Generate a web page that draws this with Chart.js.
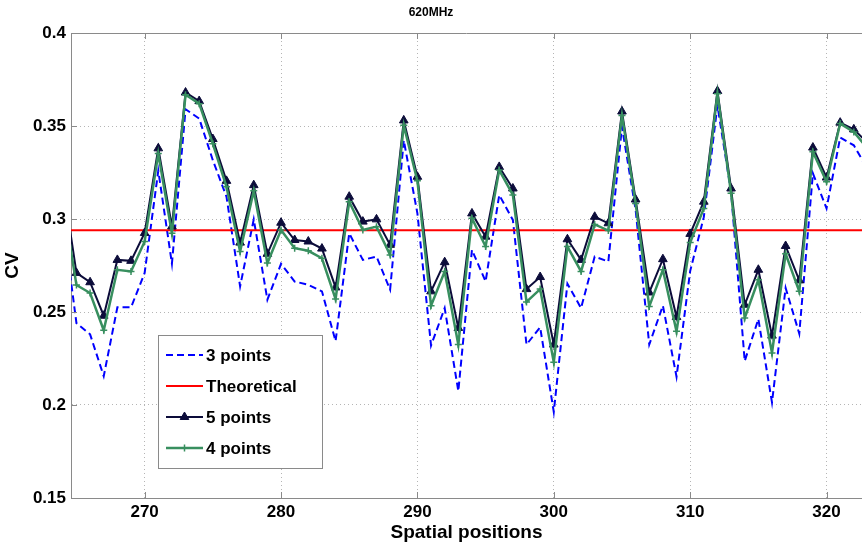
<!DOCTYPE html>
<html><head><meta charset="utf-8">
<script src="https://cdn.jsdelivr.net/npm/chart.js@4/dist/chart.umd.min.js"></script>
<style>html,body{margin:0;padding:0;background:#fff;overflow:hidden;}#wrap{width:862px;height:548px;position:relative;}</style>
</head><body><div id="wrap"><canvas id="c"></canvas></div>
<script>
const TITLE = '620MHz';
const X_LABEL = 'Spatial positions';
const Y_LABEL = 'CV';
const POSITIONS = [264,265,266,267,268,269,270,271,272,273,274,275,276,277,278,279,280,281,282,283,284,285,286,287,288,289,290,291,292,293,294,295,296,297,298,299,300,301,302,303,304,305,306,307,308,309,310,311,312,313,314,315,316,317,318,319,320,321,322,323];
const X_TICKS = [270,280,290,300,310,320];
const Y_TICKS = [0.15,0.2,0.25,0.3,0.35,0.4];
const SERIES_NAMES = ['3 points','Theoretical','5 points','4 points'];
const THREE_POINTS = [0.300,0.244,0.238,0.2155,0.2525,0.2525,0.271,0.326,0.276,0.359,0.354,0.3316,0.312,0.2638,0.2998,0.2566,0.2759,0.2664,0.2646,0.2611,0.2343,0.2923,0.278,0.2798,0.262,0.3423,0.303,0.232,0.2521,0.2075,0.2834,0.2664,0.3129,0.2995,0.2325,0.2418,0.1963,0.2652,0.2521,0.2798,0.2771,0.3495,0.305,0.2325,0.2534,0.2152,0.272,0.301,0.3611,0.3146,0.2236,0.2462,0.2014,0.2629,0.2384,0.3245,0.3057,0.3438,0.3396,0.327];
const THEORETICAL = 0.294;
const FIVE_POINTS = [0.320,0.271,0.266,0.248,0.278,0.2775,0.2925,0.338,0.296,0.368,0.3634,0.343,0.3205,0.2873,0.3182,0.2813,0.298,0.2887,0.2879,0.2841,0.2632,0.312,0.2986,0.2998,0.2861,0.353,0.3227,0.2611,0.2768,0.2414,0.303,0.2905,0.328,0.3164,0.2623,0.2688,0.2325,0.2891,0.278,0.3012,0.2977,0.3578,0.3105,0.2605,0.2784,0.2473,0.292,0.3093,0.3688,0.3164,0.2539,0.2727,0.2373,0.2855,0.267,0.3384,0.3223,0.3518,0.3482,0.341];
const FOUR_POINTS = [0.310,0.2645,0.2602,0.2402,0.2727,0.2718,0.2879,0.3352,0.2923,0.3668,0.362,0.3405,0.3173,0.2825,0.3152,0.2763,0.2941,0.2843,0.2829,0.2789,0.257,0.3093,0.2941,0.2959,0.2807,0.3504,0.3205,0.2534,0.2718,0.2325,0.3004,0.2852,0.3263,0.3129,0.2554,0.2623,0.223,0.2852,0.2718,0.2971,0.2938,0.3557,0.3084,0.253,0.2727,0.2396,0.2873,0.3057,0.3673,0.3138,0.2468,0.2673,0.228,0.2813,0.2611,0.3361,0.32,0.3513,0.3468,0.338];

const pts = arr => POSITIONS.map((x, i) => ({x, y: arr[i]}));
const FONT = 'Liberation Sans, Arial, Helvetica, sans-serif';
const AXIS_COLOR = '#8a8a8a';

const frame = {
  id: 'frame',
  afterDatasetsDraw(chart) {
    const {ctx, chartArea: a, scales} = chart;
    ctx.save();
    ctx.strokeStyle = AXIS_COLOR; ctx.lineWidth = 1;
    ctx.beginPath(); ctx.moveTo(a.left, a.top + 0.5); ctx.lineTo(a.right, a.top + 0.5); ctx.stroke();
    const tl = 6;
    ctx.beginPath();
    X_TICKS.forEach(v => {
      const x = Math.round(scales.x.getPixelForValue(v)) + 0.5;
      ctx.moveTo(x, a.bottom); ctx.lineTo(x, a.bottom - tl);
      ctx.moveTo(x, a.top); ctx.lineTo(x, a.top + tl);
    });
    Y_TICKS.forEach(v => {
      const y = Math.round(scales.y.getPixelForValue(v)) + 0.5;
      ctx.moveTo(a.left, y); ctx.lineTo(a.left + tl, y);
    });
    ctx.stroke();
    // legend
    const bx = 158, by = 335, bw = 164, bh = 133;
    ctx.fillStyle = '#fff'; ctx.fillRect(bx, by, bw, bh);
    ctx.strokeStyle = AXIS_COLOR; ctx.strokeRect(bx + 0.5, by + 0.5, bw, bh);
    const ds = chart.data.datasets;
    ctx.font = 'bold 17px ' + FONT; ctx.textBaseline = 'middle'; ctx.textAlign = 'left';
    ds.forEach((d, i) => {
      const y = 355 + i * 31;
      ctx.save();
      ctx.strokeStyle = d.borderColor; ctx.lineWidth = d.borderWidth;
      ctx.setLineDash(d.borderDash || []);
      ctx.beginPath(); ctx.moveTo(166, y); ctx.lineTo(203, y); ctx.stroke();
      ctx.setLineDash([]);
      if (d.pointRadius > 0) {
        ctx.fillStyle = d.pointBackgroundColor; ctx.strokeStyle = d.pointBorderColor;
        ctx.lineWidth = d.pointBorderWidth;
        Chart.helpers.drawPoint(ctx, {pointStyle: d.pointStyle, radius: d.pointRadius, borderWidth: d.pointBorderWidth, rotation: 0}, 184.5, y);
      }
      ctx.restore();
      ctx.fillStyle = '#000';
      ctx.fillText(d.label, 206, y + 1);
    });
    ctx.restore();
  }
};

new Chart(document.getElementById('c'), {
  type: 'line',
  data: {
    datasets: [
      {label: SERIES_NAMES[0], data: pts(THREE_POINTS), borderColor: '#0000ff', borderWidth: 2, borderDash: [7, 4], pointRadius: 0, order: 4, clip: 0},
      {label: SERIES_NAMES[1], data: [{x: POSITIONS[0], y: THEORETICAL}, {x: POSITIONS[POSITIONS.length - 1], y: THEORETICAL}], borderColor: '#ff0000', borderWidth: 2, pointRadius: 0, order: 3, clip: 0},
      {label: SERIES_NAMES[2], data: pts(FIVE_POINTS), borderColor: '#0c0c3a', borderWidth: 2, pointStyle: 'triangle', pointRadius: 5, pointBackgroundColor: '#0c0c3a', pointBorderColor: '#0c0c3a', pointBorderWidth: 1, order: 2, clip: 0},
      {label: SERIES_NAMES[3], data: pts(FOUR_POINTS), borderColor: '#388f5f', borderWidth: 2.5, pointStyle: 'cross', pointRadius: 3.5, pointBackgroundColor: '#388f5f', pointBorderColor: '#388f5f', pointBorderWidth: 1.5, order: 1, clip: 0}
    ]
  },
  options: {
    responsive: true, maintainAspectRatio: false, animation: false, devicePixelRatio: 1,
    layout: {padding: 0, autoPadding: false},
    elements: {line: {tension: 0, fill: false}},
    plugins: {
      legend: {display: false}, tooltip: {enabled: false},
      title: {display: true, text: TITLE, color: '#000', font: {family: FONT, size: 12, weight: 'bold'}, padding: {top: 5, bottom: 13.6}}
    },
    scales: {
      x: {
        type: 'linear', min: 264.6, max: 322.6,
        afterBuildTicks: s => { s.ticks = X_TICKS.map(v => ({value: v})); },
        afterFit: s => { s.height = 50; s.paddingLeft = 0; s.paddingRight = 0; },
        ticks: {color: '#000', font: {family: FONT, size: 17, weight: 'bold'}, padding: 4, maxRotation: 0, autoSkip: false},
        grid: {color: '#b5b5b5', lineWidth: 1, drawTicks: false},
        border: {display: true, color: AXIS_COLOR, dash: [1, 3]},
        title: {display: true, text: X_LABEL, color: '#000', font: {family: FONT, size: 19, weight: 'bold'}, padding: {top: 0, bottom: 3.6}}
      },
      y: {
        type: 'linear', min: 0.15, max: 0.4,
        afterBuildTicks: s => { s.ticks = Y_TICKS.map(v => ({value: v})); },
        afterFit: s => { s.width = 71; },
        ticks: {color: '#000', font: {family: FONT, size: 17, weight: 'bold'}, padding: 5, callback: v => String(+v.toFixed(2))},
        grid: {color: '#b5b5b5', lineWidth: 1, drawTicks: false},
        border: {display: true, color: AXIS_COLOR, dash: [1, 3]},
        title: {display: true, text: Y_LABEL, color: '#000', font: {family: FONT, size: 19, weight: 'bold'}, padding: {top: 1, bottom: 0}}
      }
    }
  },
  plugins: [frame]
});
</script></body></html>
